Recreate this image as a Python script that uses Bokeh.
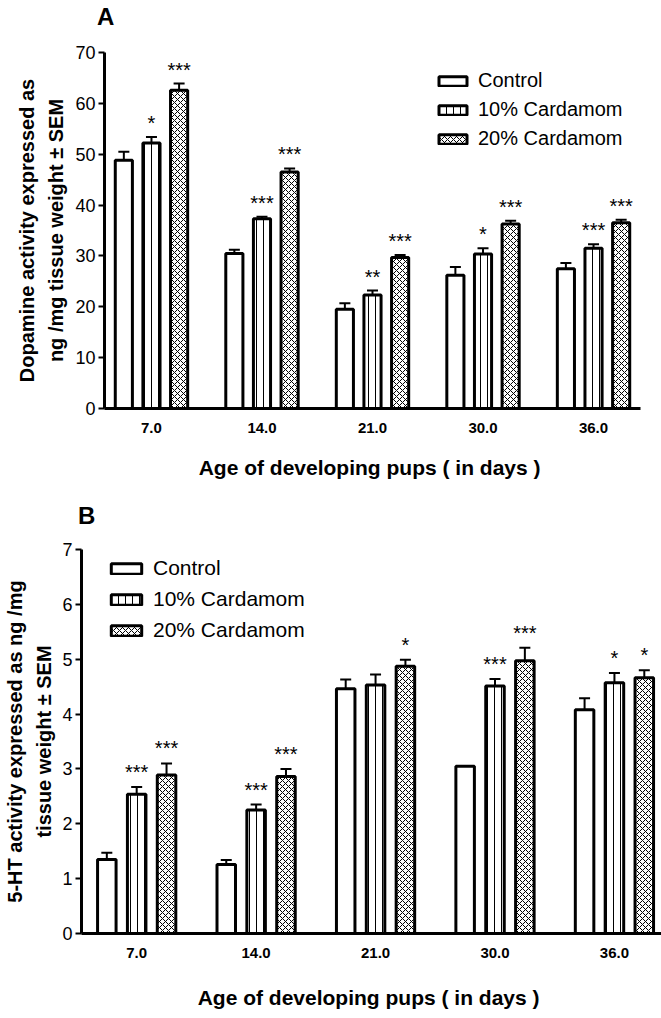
from bokeh.plotting import figure
from bokeh.models import (Range1d, SingleIntervalTicker, FixedTicker, Legend, LegendItem,
                          Whisker, TeeHead, ColumnDataSource, Title, Div)
from bokeh.transform import dodge
from bokeh.layouts import column
from bokeh.embed import file_html
from bokeh.resources import INLINE
from bokeh.core.properties import value

# ---------------- data ----------------
ages = ["7.0", "14.0", "21.0", "30.0", "36.0"]
series_names = ["Control", "10% Cardamom", "20% Cardamom"]

# Panel A: dopamine (ng/mg tissue weight), mean and SEM
da_control = [48.8, 30.5, 19.5, 26.2, 27.5]
da_control_sem = [1.7, 0.7, 1.2, 1.6, 1.1]
da_10 = [52.2, 37.3, 22.3, 30.4, 31.5]
da_10_sem = [1.2, 0.4, 0.9, 1.1, 0.8]
da_20 = [62.6, 46.5, 29.7, 36.3, 36.5]
da_20_sem = [1.3, 0.7, 0.5, 0.6, 0.6]
da_stars_control = ["", "", "", "", ""]
da_stars_10 = ["*", "***", "**", "*", "***"]
da_stars_20 = ["***", "***", "***", "***", "***"]

# Panel B: 5-HT (ng/mg tissue weight), mean and SEM
ht_control = [1.35, 1.26, 4.46, 3.05, 4.08]
ht_control_sem = [0.12, 0.08, 0.17, 0.0, 0.21]
ht_10 = [2.54, 2.25, 4.53, 4.51, 4.57]
ht_10_sem = [0.13, 0.10, 0.19, 0.13, 0.18]
ht_20 = [2.89, 2.86, 4.87, 4.97, 4.66]
ht_20_sem = [0.21, 0.14, 0.12, 0.24, 0.14]
ht_stars_control = ["", "", "", "", ""]
ht_stars_10 = ["***", "***", "", "***", "*"]
ht_stars_20 = ["***", "***", "*", "***", "*"]

FONT = "Liberation Sans"
OFFSETS = [-0.25, 0.0, 0.25]
HATCH = [None, "vertical_line", "diagonal_cross"]
HATCH_SCALE = [12, 7, 6]


def letter_div(letter, left, top, height):
    return Div(text=letter, width=661, height=height, margin=0,
               styles={"font-family": "'Liberation Sans'", "font-size": "24px",
                       "font-weight": "bold", "line-height": "24px", "color": "black",
                       "padding-left": f"{left}px", "padding-top": f"{top}px",
                       "box-sizing": "border-box", "overflow": "visible"})


def panel(means, sems, stars, y_end, y_interval, ylines, x_start, x_end,
          width, height, border_left, border_top, border_bottom, border_right,
          legend_loc, legend_font, legend_spacing, legend_glyph_w, legend_glyph_h,
          xlabel_standoff, star_offset):
    p = figure(width=width, height=height, output_backend="svg", toolbar_location=None,
               x_range=Range1d(x_start, x_end), y_range=Range1d(0, y_end),
               min_border_left=border_left, min_border_top=border_top,
               min_border_bottom=border_bottom, min_border_right=border_right)
    p.frame_align = False
    p.outline_line_color = None
    p.xgrid.visible = False
    p.ygrid.visible = False
    p.background_fill_color = "white"

    renderers = []
    idx = list(range(len(ages)))
    for i in range(3):
        src = ColumnDataSource(dict(x=idx, top=means[i]))
        kw = {}
        if HATCH[i]:
            kw = dict(hatch_pattern=HATCH[i], hatch_color="black",
                      hatch_scale=HATCH_SCALE[i], hatch_weight=1)
        r = p.vbar(x=dodge("x", OFFSETS[i]), top="top", width=0.155, bottom=0,
                   source=src, fill_color="white", line_color="black",
                   line_width=3, **kw)
        renderers.append(r)

        # error bars (only where an SEM is shown)
        keep = [k for k in idx if sems[i][k] > 0]
        esrc = ColumnDataSource(dict(x=keep,
                                     top=[means[i][k] for k in keep],
                                     upper=[means[i][k] + sems[i][k] for k in keep]))
        w = Whisker(base=dodge("x", OFFSETS[i]), lower="top", upper="upper",
                    source=esrc, dimension="height", line_width=2, line_color="black",
                    upper_head=TeeHead(size=11, line_width=2, line_color="black"),
                    lower_head=None)
        p.add_layout(w)

        # significance stars
        ks = [k for k in idx if stars[i][k]]
        if ks:
            ssrc = ColumnDataSource(dict(x=ks,
                                         y=[means[i][k] + sems[i][k] for k in ks],
                                         t=[stars[i][k] for k in ks]))
            p.text(x=dodge("x", OFFSETS[i]), y="y", text="t", source=ssrc,
                   text_font=value(FONT), text_font_size="20px", text_color="black",
                   text_align="center", text_baseline="alphabetic", y_offset=star_offset)

    # axes
    yax = p.yaxis[0]
    yax.ticker = SingleIntervalTicker(interval=y_interval)
    yax.minor_tick_line_color = None
    yax.major_tick_in = 0
    yax.major_tick_out = 6
    yax.major_tick_line_width = 2
    yax.axis_line_width = 3
    yax.major_label_text_font = FONT
    yax.major_label_text_font_size = "18px"
    yax.major_label_text_color = "black"
    yax.major_label_standoff = 3

    xax = p.xaxis[0]
    xax.ticker = FixedTicker(ticks=idx)
    xax.major_label_overrides = {i: a for i, a in enumerate(ages)}
    xax.major_tick_line_color = None
    xax.minor_tick_line_color = None
    xax.axis_line_width = 3
    xax.major_label_standoff = 8
    xax.major_label_text_font = FONT
    xax.major_label_text_font_size = "15px"
    xax.major_label_text_font_style = "bold"
    xax.major_label_text_color = "black"
    xax.axis_label = "Age of developing pups  ( in days )"
    xax.axis_label_text_font = FONT
    xax.axis_label_text_font_size = "21px"
    xax.axis_label_text_font_style = "bold"
    xax.axis_label_text_color = "black"
    xax.axis_label_standoff = xlabel_standoff

    # two-line y title (closest line added first)
    for txt, so in ylines:
        p.add_layout(Title(text=txt, align="center", text_font=FONT, text_font_size="20px",
                           text_font_style="bold", text_color="black", standoff=so), "left")

    legend = Legend(items=[LegendItem(label=n, renderers=[r]) for n, r in zip(series_names, renderers)],
                    location=legend_loc, orientation="vertical",
                    border_line_color=None, background_fill_alpha=0,
                    glyph_width=legend_glyph_w, glyph_height=legend_glyph_h,
                    label_standoff=8, spacing=legend_spacing, padding=0, margin=0,
                    label_text_font=FONT, label_text_font_size=legend_font,
                    label_text_color="black", label_height=20)
    p.add_layout(legend)
    return p


divA = letter_div("A", 97, 5, 30)
pA = panel([da_control, da_10, da_20], [da_control_sem, da_10_sem, da_20_sem],
           [da_stars_control, da_stars_10, da_stars_20], 70, 10,
           [("ng /mg tissue weight \u00b1 SEM", 11), ("Dopamine activity expressed as", 0)],
           -0.425, 4.425, 661, 458, 104, 22, 80, 21,
           (331, 258), "20px", 6, 35, 12, 20, -14)

divB = letter_div("B", 78, 16, 40)
pB = panel([ht_control, ht_10, ht_20], [ht_control_sem, ht_10_sem, ht_20_sem],
           [ht_stars_control, ht_stars_10, ht_stars_20], 7, 1,
           [("tissue weight \u00b1 SEM", 9), ("5-HT activity expressed as ng /mg", 2)],
           -0.462, 4.394, 661, 490, 80, 21, 85, 0,
           (26, 291), "21px", 7, 38, 13, 25, -15)

layout = column(divA, pA, divB, pB)
open("out.html", "w").write(file_html(layout, INLINE))
